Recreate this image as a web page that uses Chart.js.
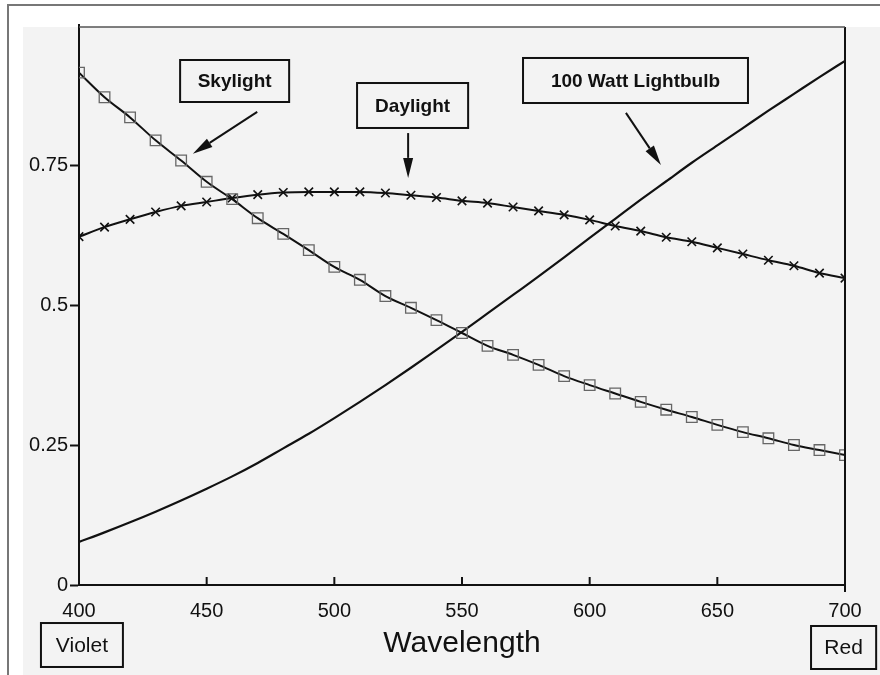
<!DOCTYPE html>
<html>
<head>
<meta charset="utf-8">
<script src="https://cdn.jsdelivr.net/npm/chart.js@4"></script>
<style>
  html, body { margin: 0; padding: 0; background: #fff; }
  #wrap { width: 880px; height: 675px; }
</style>
</head>
<body>
<div id="wrap"><canvas id="chart" width="880" height="675"></canvas></div>
<script>
// wavelength (nm) sampled every 10 nm
const wavelengths = [400, 410, 420, 430, 440, 450, 460, 470, 480, 490, 500,
  510, 520, 530, 540, 550, 560, 570, 580, 590, 600,
  610, 620, 630, 640, 650, 660, 670, 680, 690, 700];

const skylight = [0.915, 0.871, 0.835, 0.794, 0.758, 0.720, 0.689, 0.655, 0.627, 0.598, 0.568,
  0.545, 0.516, 0.495, 0.473, 0.450, 0.427, 0.411, 0.393, 0.373, 0.357,
  0.342, 0.327, 0.313, 0.300, 0.286, 0.273, 0.262, 0.250, 0.241, 0.232];

const daylight = [0.622, 0.639, 0.653, 0.666, 0.677, 0.684, 0.691, 0.697, 0.701, 0.702, 0.702,
  0.702, 0.700, 0.696, 0.692, 0.686, 0.682, 0.675, 0.668, 0.661, 0.652,
  0.641, 0.632, 0.621, 0.613, 0.602, 0.591, 0.580, 0.570, 0.557, 0.548];

const lightbulb = [0.077, 0.094, 0.112, 0.131, 0.151, 0.172, 0.194, 0.218, 0.244, 0.270, 0.298,
  0.327, 0.357, 0.388, 0.420, 0.452, 0.485, 0.518, 0.551, 0.585, 0.620,
  0.654, 0.688, 0.721, 0.754, 0.785, 0.816, 0.847, 0.877, 0.907, 0.936];

const yTickLabels = { 0: '0', 0.25: '0.25', 0.5: '0.5', 0.75: '0.75' };

// callout boxes, in data units: [x0, x1, yTop, yBottom]
const callouts = [
  { text: 'Skylight', box: [439.6, 482.3, 0.9375, 0.8625], arrow: [469.8, 0.845, 444.6, 0.770], bold: true },
  { text: 'Daylight', box: [508.9, 552.4, 0.8964, 0.8161], arrow: [528.9, 0.807, 528.9, 0.727], bold: true },
  { text: '100 Watt Lightbulb', box: [573.9, 662.0, 0.9411, 0.8607], arrow: [614.2, 0.843, 627.9, 0.750], bold: true },
  { text: 'Violet', box: [385.1, 417.2, -0.0679, -0.1464], bold: false },
  { text: 'Red', box: [686.7, 712.2, -0.0732, -0.1500], bold: false }
];

const FONT = "'Liberation Sans', Arial, Helvetica, sans-serif";
const INK = '#111';
const PAPER = '#f3f3f3';

const toPoints = arr => wavelengths.map((w, i) => ({ x: w, y: arr[i] }));

const paperPlugin = {
  id: 'paper',
  beforeDraw(chart) {
    const { ctx, width, height } = chart;
    ctx.save();
    ctx.fillStyle = '#fff';
    ctx.fillRect(0, 0, width, height);
    ctx.fillStyle = PAPER;
    ctx.fillRect(23, 27, width - 23, height - 27);
    ctx.strokeStyle = '#777';
    ctx.lineWidth = 2;
    ctx.beginPath();
    ctx.moveTo(8, height);
    ctx.lineTo(8, 5);
    ctx.lineTo(width, 5);
    ctx.stroke();
    ctx.restore();
  }
};

const framePlugin = {
  id: 'frame',
  afterDraw(chart) {
    const { ctx, chartArea: a, scales } = chart;
    ctx.save();
    ctx.strokeStyle = INK;
    ctx.lineWidth = 2;
    // right edge
    ctx.beginPath();
    ctx.moveTo(a.right, a.top + 2);
    ctx.lineTo(a.right, a.bottom + 7);
    ctx.stroke();
    // top edge
    ctx.strokeStyle = '#555';
    ctx.lineWidth = 1.5;
    ctx.beginPath();
    ctx.moveTo(a.left, a.top + 2);
    ctx.lineTo(a.right, a.top + 2);
    ctx.stroke();
    // x ticks point up into the plot
    ctx.strokeStyle = INK;
    ctx.lineWidth = 2;
    scales.x.ticks.forEach(t => {
      const px = scales.x.getPixelForValue(t.value);
      ctx.beginPath();
      ctx.moveTo(px, a.bottom);
      ctx.lineTo(px, a.bottom - 8);
      ctx.stroke();
    });

    // callouts
    const xs = scales.x, ys = scales.y;
    callouts.forEach(c => {
      const x0 = xs.getPixelForValue(c.box[0]), x1 = xs.getPixelForValue(c.box[1]);
      const y0 = ys.getPixelForValue(c.box[2]), y1 = ys.getPixelForValue(c.box[3]);
      ctx.fillStyle = PAPER;
      ctx.fillRect(x0, y0, x1 - x0, y1 - y0);
      ctx.strokeStyle = INK;
      ctx.lineWidth = 2;
      ctx.strokeRect(x0, y0, x1 - x0, y1 - y0);
      ctx.fillStyle = INK;
      ctx.font = (c.bold ? 'bold 19px ' : '21px ') + FONT;
      ctx.textAlign = 'center';
      ctx.textBaseline = 'middle';
      ctx.fillText(c.text, (x0 + x1) / 2, (y0 + y1) / 2 + 1);
      if (c.arrow) {
        const ax = xs.getPixelForValue(c.arrow[0]), ay = ys.getPixelForValue(c.arrow[1]);
        const bx = xs.getPixelForValue(c.arrow[2]), by = ys.getPixelForValue(c.arrow[3]);
        const ang = Math.atan2(by - ay, bx - ax);
        const len = 20, half = 5;
        const hx = bx - len * Math.cos(ang), hy = by - len * Math.sin(ang);
        ctx.lineWidth = 2;
        ctx.beginPath();
        ctx.moveTo(ax, ay);
        ctx.lineTo(hx, hy);
        ctx.stroke();
        ctx.beginPath();
        ctx.moveTo(bx, by);
        ctx.lineTo(hx + half * Math.sin(ang), hy - half * Math.cos(ang));
        ctx.lineTo(hx - half * Math.sin(ang), hy + half * Math.cos(ang));
        ctx.closePath();
        ctx.fill();
      }
    });
    ctx.restore();
  }
};

new Chart(document.getElementById('chart').getContext('2d'), {
  type: 'line',
  data: {
    datasets: [{
      label: 'Skylight',
      data: toPoints(skylight),
      borderColor: INK,
      borderWidth: 2,
      pointStyle: 'rect',
      pointRadius: 7.5,
      pointBorderColor: '#666',
      pointBorderWidth: 1.3,
      pointBackgroundColor: 'rgba(0,0,0,0)',
      cubicInterpolationMode: 'monotone'
    }, {
      label: 'Daylight',
      data: toPoints(daylight),
      borderColor: INK,
      borderWidth: 2,
      pointStyle: 'crossRot',
      pointRadius: 6,
      pointBorderColor: INK,
      pointBorderWidth: 1.6,
      cubicInterpolationMode: 'monotone'
    }, {
      label: '100 Watt Lightbulb',
      data: toPoints(lightbulb),
      borderColor: INK,
      borderWidth: 2.2,
      pointRadius: 0,
      cubicInterpolationMode: 'monotone'
    }]
  },
  options: {
    responsive: false,
    animation: false,
    events: [],
    layout: { padding: { left: 0, right: 35, top: 25, bottom: 0 } },
    plugins: {
      legend: { display: false },
      tooltip: { enabled: false }
    },
    scales: {
      x: {
        type: 'linear',
        min: 400,
        max: 700,
        afterFit: s => { s.height = 90; },
        ticks: {
          stepSize: 50,
          color: INK,
          padding: 6,
          font: { family: FONT, size: 20 }
        },
        grid: { display: false },
        border: { display: true, color: INK, width: 2 },
        title: {
          display: true,
          text: 'Wavelength',
          color: INK,
          font: { family: FONT, size: 30 },
          padding: { top: 0, bottom: 13 }
        }
      },
      y: {
        min: 0,
        max: 1,
        afterFit: s => { s.width = 79; },
        afterBuildTicks: s => { s.ticks = s.ticks.filter(t => t.value < 1); },
        ticks: {
          stepSize: 0.25,
          color: INK,
          padding: 2,
          font: { family: FONT, size: 20 },
          callback: v => yTickLabels[v] ?? ''
        },
        grid: { drawOnChartArea: false, tickLength: 9, tickColor: INK, tickWidth: 2 },
        border: { display: true, color: INK, width: 2 }
      }
    }
  },
  plugins: [paperPlugin, framePlugin]
});
</script>
</body>
</html>
